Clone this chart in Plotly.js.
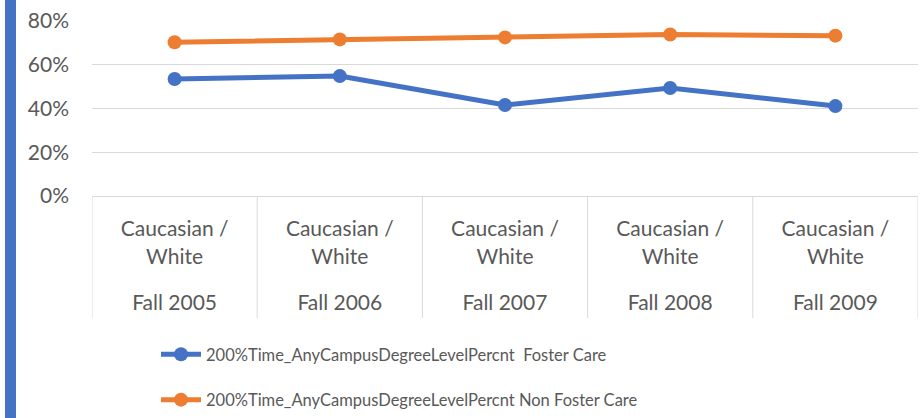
<!DOCTYPE html>
<html>
<head>
<meta charset="utf-8">
<script src="https://cdn.plot.ly/plotly-3.0.1.min.js"></script>
<style>
  html, body { margin: 0; padding: 0; background: #fff; }
  #wrap { position: relative; width: 923px; height: 418px; }
  #bar { position: absolute; left: 5px; top: 0; width: 11px; height: 418px; background: #4472C4; }
  #chart { position: absolute; left: 0; top: 0; width: 923px; height: 418px; }
</style>
</head>
<body>
<div id="wrap">
  <div id="chart"></div>
  <div id="bar"></div>
</div>
<script>
// Data
const years = ["Fall 2005", "Fall 2006", "Fall 2007", "Fall 2008", "Fall 2009"];
const groups = ["Caucasian /<br>White", "Caucasian /<br>White", "Caucasian /<br>White", "Caucasian /<br>White", "Caucasian /<br>White"];
const fosterCare = [0.535, 0.548, 0.416, 0.494, 0.411];
const nonFosterCare = [0.703, 0.716, 0.725, 0.738, 0.733];
const seriesNames = [
  "200%Time_AnyCampusDegreeLevelPercnt  Foster Care",
  "200%Time_AnyCampusDegreeLevelPercnt Non Foster Care"
];
const yTickVals = [0, 0.2, 0.4, 0.6, 0.8];

const idx = years.map((_, i) => i);
const FONT = "Lato, 'Open Sans', sans-serif";
const TXT = "#595959";
const GRID = "#D9D9D9";

const traces = [
  {
    x: idx, y: fosterCare, name: seriesNames[0], type: "scatter", mode: "lines+markers",
    line: { color: "#4472C4", width: 5 }, marker: { color: "#4472C4", size: 14 },
    legendgroup: "a", xaxis: "x", yaxis: "y"
  },
  {
    x: idx, y: nonFosterCare, name: seriesNames[1], type: "scatter", mode: "lines+markers",
    line: { color: "#ED7D31", width: 5 }, marker: { color: "#ED7D31", size: 14 },
    legendgroup: "b", xaxis: "x", yaxis: "y"
  }
];

const plotH = 418 - 21 - 222;
const shapes = [];
for (let i = 0; i <= years.length; i++) {
  shapes.push({
    type: "line", xref: "x", yref: "paper",
    x0: i - 0.5, x1: i - 0.5, y0: 0, y1: -(318 - 196) / plotH,
    line: { color: GRID, width: 1 }, layer: "below"
  });
}

const layout = {
  width: 923, height: 418,
  margin: { l: 92, r: 5, t: 21, b: 222, autoexpand: false },
  paper_bgcolor: "#fff", plot_bgcolor: "#fff",
  font: { family: FONT, color: TXT, size: 21 },
  showlegend: true,
  xaxis: {
    range: [-0.5, years.length - 0.5],
    tickmode: "array", tickvals: idx, ticktext: groups,
    showgrid: false, zeroline: false,
    showline: true, linecolor: GRID, linewidth: 1,
    ticks: "", ticklabelstandoff: 14, automargin: false,
    tickfont: { family: FONT, size: 21, color: TXT },
    fixedrange: true
  },
  xaxis2: {
    overlaying: "x", side: "bottom", anchor: "y",
    range: [-0.5, years.length - 0.5],
    tickmode: "array", tickvals: idx, ticktext: years,
    showgrid: false, zeroline: false, showline: false,
    ticks: "", ticklabelstandoff: 92, automargin: false,
    tickfont: { family: FONT, size: 21, color: TXT },
    fixedrange: true
  },
  yaxis: {
    range: [0, 0.8],
    tickmode: "array", tickvals: yTickVals, tickformat: ".0%",
    showgrid: true, gridcolor: GRID, gridwidth: 1,
    zeroline: false, showline: false, automargin: false,
    ticks: "", ticklabelstandoff: 22,
    tickfont: { family: FONT, size: 21, color: TXT },
    fixedrange: true
  },
  legend: {
    orientation: "v",
    x: (156 - 92) / 826, xanchor: "left",
    y: -(337 - 196) / plotH, yanchor: "top",
    traceorder: "grouped", tracegroupgap: 21,
    font: { family: FONT, size: 16.5, color: TXT },
    bgcolor: "rgba(0,0,0,0)", itemwidth: 40
  },
  shapes: shapes
};

// helper trace to activate xaxis2 without visible marks
traces.push({ x: idx, y: idx.map(() => null), xaxis: "x2", yaxis: "y", type: "scatter", mode: "lines", showlegend: false, hoverinfo: "skip" });

Plotly.newPlot("chart", traces, layout, { staticPlot: true, displayModeBar: false });
</script>
</body>
</html>
